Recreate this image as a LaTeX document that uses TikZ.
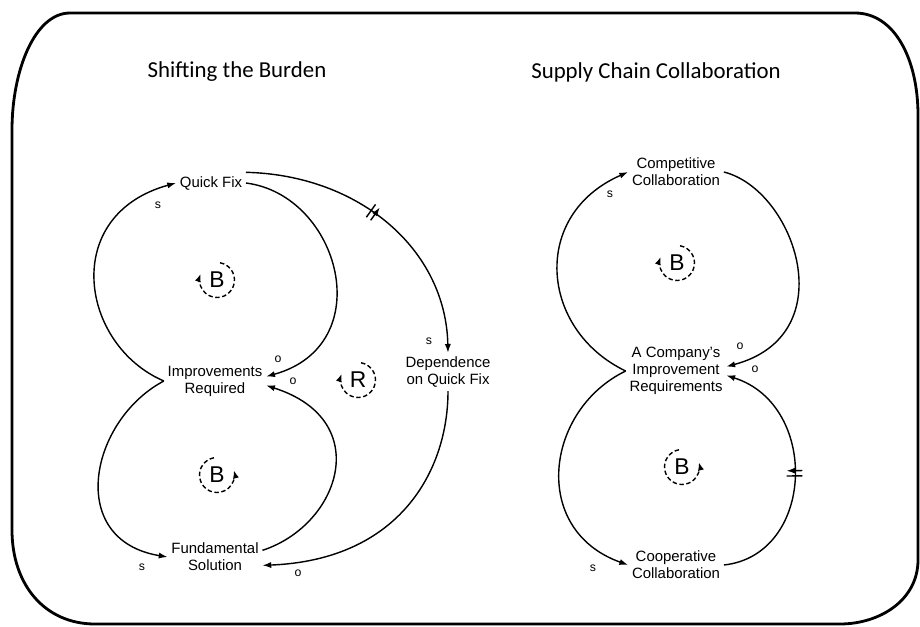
\documentclass[tikz,border=0pt]{standalone}
\usepackage{fontspec}
\setmainfont{Liberation Sans}
\newfontfamily\titlefont{Carlito}
\usetikzlibrary{arrows.meta,decorations.markings}

\begin{document}
\begin{tikzpicture}[x=0.02cm,y=-0.02cm]
\tikzstyle{every node}=[inner sep=2pt,align=center,font=\fontsize{8.5}{9.7}\selectfont]
\tikzstyle{title}=[font=\titlefont\fontsize{13}{15}\selectfont]
\tikzstyle{link}=[line width=0.8pt,-{Latex[length=5pt,width=3.5pt]}]
\tikzstyle{sign}=[font=\fontsize{7}{8}\selectfont]
\tikzstyle{loopname}=[font=\fontsize{13}{15}\selectfont]
\tikzstyle{loopline}=[line width=0.8pt,dash pattern=on 2.5pt off 1.5pt,-{Latex[length=4.5pt,width=3.5pt]}]
\tikzset{delayed/.style={postaction={decorate},decoration={markings,
  mark=at position #1 with {\draw[line width=0.8pt] (-1.5pt,-4.5pt)--(-1.5pt,4.5pt) (1.5pt,-4.5pt)--(1.5pt,4.5pt);}}}}

\useasboundingbox (0,0) rectangle (920,626);

% frame
\draw[line width=1.6pt] (70,13) -- (855,13) .. controls (895,13) and (918,60) .. (918,115)
  -- (918,560) .. controls (918,600) and (880,624) .. (840,624) -- (95,624)
  .. controls (45,624) and (12,585) .. (12,530) -- (12,130) .. controls (12,70) and (35,13) .. (70,13) -- cycle;

\node[title] (t1) at (237,72) {Shifting the Burden};
\node[title] (t2) at (656,72) {Supply Chain Collaboration};

% shifting the burden
\node (qf) at (211,183) {Quick Fix};
\node (ir) at (215,381) {Improvements\\Required};
\node (fs) at (215,557) {Fundamental\\Solution};
\node (dq) at (448,372) {Dependence\\on Quick Fix};

\draw[link] (ir.west) .. controls (80,345) and (60,215) .. (qf.west);
\draw[link] (qf.east) .. controls (340,195) and (380,345) .. (ir.5);
\draw[link] (fs.8) .. controls (340,525) and (375,420) .. (ir.-5);
\draw[link] (ir.west) .. controls (90,420) and (65,540) .. (fs.west);
\draw[link,delayed=.45] (qf.north east) .. controls (360,175) and (446,250) .. (dq.north);
\draw[link] (dq.south) .. controls (448,470) and (400,560) .. (fs.-10);

\node[sign] (s1) at (158,205) {s};
\node[sign] (o1) at (278,359) {o};
\node[sign] (o2) at (293,381) {o};
\node[sign] (s2) at (142,567) {s};
\node[sign] (s3) at (429,341) {s};
\node[sign] (o3) at (298,573) {o};

\node[loopname] (b1) at (217,280) {B};
\draw[loopline] ([shift={(80:0.35cm)}]b1.center) arc[start angle=80,end angle=-200,radius=0.35cm];
\node[loopname] (r1) at (358,380) {R};
\draw[loopline] ([shift={(80:0.35cm)}]r1.center) arc[start angle=80,end angle=-200,radius=0.35cm];
\node[loopname] (b2) at (217,475) {B};
\draw[loopline] ([shift={(100:0.35cm)}]b2.center) arc[start angle=100,end angle=375,radius=0.35cm];

% supply chain collaboration
\node (cc) at (676,172) {Competitive\\Collaboration};
\node (cir) at (676,371) {A Company's\\Improvement\\Requirements};
\node (coc) at (676,565) {Cooperative\\Collaboration};

\draw[link] (cir.west) .. controls (540,330) and (530,215) .. (cc.west);
\draw[link] (cc.east) .. controls (795,190) and (845,335) .. (cir.5);
\draw[link,delayed=.5] (coc.east) .. controls (815,555) and (820,405) .. (cir.-5);
\draw[link] (cir.west) .. controls (545,410) and (530,530) .. (coc.west);

\node[sign] (s4) at (610,194) {s};
\node[sign] (o4) at (740,346) {o};
\node[sign] (o5) at (755,369) {o};
\node[sign] (s5) at (593,568) {s};

\node[loopname] (b3) at (677,263) {B};
\draw[loopline] ([shift={(80:0.35cm)}]b3.center) arc[start angle=80,end angle=-200,radius=0.35cm];
\node[loopname] (b4) at (682,467) {B};
\draw[loopline] ([shift={(100:0.35cm)}]b4.center) arc[start angle=100,end angle=375,radius=0.35cm];
\end{tikzpicture}
\end{document}
